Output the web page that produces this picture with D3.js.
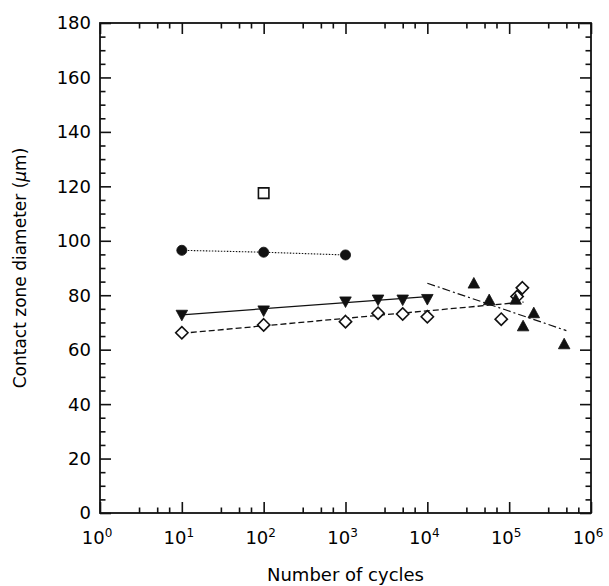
<!DOCTYPE html>
<html>
<head>
<meta charset="utf-8">
<script src="https://cdn.jsdelivr.net/npm/d3@7"></script>
<style>
  body { margin: 0; background: #fff; }
  text { font-family: "DejaVu Sans", sans-serif; fill: #000; }
</style>
</head>
<body>
<div id="main"></div>
<script>
// values
const xMajor = [1, 10, 100, 1000, 10000, 100000, 1000000];
const xMinorMult = [3, 5, 7];
const yMajor = [0, 20, 40, 60, 80, 100, 120, 140, 160, 180];

const circleX = [10, 100, 1000];
const circleY = [96.5, 95.8, 94.8];

const squareX = [100];
const squareY = [117.5];

const triDownX = [10, 100, 1000, 2500, 5000, 10000];
const triDownY = [72.7, 74.3, 77.6, 78.3, 78.3, 78.5];

const diamondX = [10, 100, 1000, 2500, 5000, 10000, 80000, 125000, 145000];
const diamondY = [66.2, 69.1, 70.3, 73.4, 73.1, 72.1, 71.2, 79.5, 82.7];

const triUpX = [37000, 57000, 120000, 148000, 200000, 470000];
const triUpY = [84.4, 78.3, 78.5, 68.7, 73.5, 62.1];

// fitted lines (x ends, y ends)
const solidFitX = [10, 10000];
const solidFitY = [72.8, 79.5];
const dashFitX = [10, 150000];
const dashFitY = [66, 77.5];
const dashDotFitX = [10000, 500000];
const dashDotFitY = [84.4, 67];

const width = 609;
const height = 586;
const margin = { left: 100, right: 18, top: 23, bottom: 73 };

const svg = d3.select("#main").append("svg")
  .attr("width", width)
  .attr("height", height);

const x = d3.scaleLog()
  .domain([1, 1e6])
  .range([margin.left, width - margin.right]);

const y = d3.scaleLinear()
  .domain([0, 180])
  .range([height - margin.bottom, margin.top]);

const x0 = x.range()[0], x1 = x.range()[1];
const y0 = y.range()[0], y1 = y.range()[1];

const xMinor = [];
xMajor.slice(0, -1).forEach((d) => xMinorMult.forEach((m) => xMinor.push(d * m)));
const yMinor = d3.range(0, 181, 5).filter((d) => d % 20 !== 0);

const majorLen = 11;
const minorLen = 5.5;

// axes with inward ticks on all four sides
const addAxis = (axis, tr) => {
  const g = svg.append("g").attr("transform", tr).call(axis);
  g.select(".domain").remove();
  g.selectAll("line").attr("stroke", "#111").attr("stroke-width", 1.6);
  g.selectAll("text").remove();
  return g;
};

addAxis(d3.axisBottom(x).tickValues(xMajor).tickSize(-majorLen), `translate(0,${y0})`);
addAxis(d3.axisBottom(x).tickValues(xMinor).tickSize(-minorLen), `translate(0,${y0})`);
addAxis(d3.axisTop(x).tickValues(xMajor).tickSize(-majorLen), `translate(0,${y1})`);
addAxis(d3.axisTop(x).tickValues(xMinor).tickSize(-minorLen), `translate(0,${y1})`);
addAxis(d3.axisLeft(y).tickValues(yMajor).tickSize(-majorLen), `translate(${x0},0)`);
addAxis(d3.axisLeft(y).tickValues(yMinor).tickSize(-minorLen), `translate(${x0},0)`);
addAxis(d3.axisRight(y).tickValues(yMajor).tickSize(-majorLen), `translate(${x1},0)`);
addAxis(d3.axisRight(y).tickValues(yMinor).tickSize(-minorLen), `translate(${x1},0)`);

svg.append("rect")
  .attr("x", x0).attr("y", y1)
  .attr("width", x1 - x0).attr("height", y0 - y1)
  .attr("fill", "none").attr("stroke", "#111").attr("stroke-width", 1.8);

// tick labels
svg.append("g").selectAll("text")
  .data(yMajor).enter().append("text")
  .attr("x", x0 - 9)
  .attr("y", (d) => y(d))
  .attr("dy", "0.36em")
  .attr("text-anchor", "end")
  .style("font-size", "18px")
  .text((d) => d);

const xl = svg.append("g").selectAll("text")
  .data(xMajor).enter().append("text")
  .attr("x", (d) => x(d) - 3)
  .attr("y", y0 + 31)
  .attr("text-anchor", "middle")
  .style("font-size", "18px");
xl.append("tspan").text("10");
xl.append("tspan")
  .attr("dy", "-0.55em")
  .style("font-size", "12px")
  .text((d) => Math.round(Math.log10(d)));

// axis titles
svg.append("text")
  .attr("x", (x0 + x1) / 2)
  .attr("y", 581)
  .attr("text-anchor", "middle")
  .style("font-size", "18px")
  .text("Number of cycles");

const yt = svg.append("text")
  .attr("transform", `translate(26,${(y0 + y1) / 2}) rotate(-90)`)
  .attr("text-anchor", "middle")
  .style("font-size", "17px");
yt.append("tspan").text("Contact zone diameter (");
yt.append("tspan").style("font-style", "italic").text("\u03bc");
yt.append("tspan").text("m)");

// fit lines
const line = d3.line().x((d) => x(d[0])).y((d) => y(d[1]));
const drawLine = (xs, ys, dash, w) => {
  svg.append("path")
    .datum(d3.zip(xs, ys))
    .attr("d", line)
    .attr("fill", "none")
    .attr("stroke", "#111")
    .attr("stroke-width", w)
    .attr("stroke-dasharray", dash);
};
drawLine(circleX, circleY, "1.5,1.5", 1.1);
drawLine(solidFitX, solidFitY, null, 1.2);
drawLine(dashFitX, dashFitY, "6,3", 1.3);
drawLine(dashDotFitX, dashDotFitY, "8,3,2,3", 1.2);

// markers
const sym = (type, size) => d3.symbol().type(type).size(size);
const triDown = {
  draw(ctx, size) {
    const s = Math.sqrt(size) * 1.1;
    ctx.moveTo(-s / 2, -s * 0.42);
    ctx.lineTo(s / 2, -s * 0.42);
    ctx.lineTo(0, s * 0.5);
    ctx.closePath();
  }
};
const triUp = {
  draw(ctx, size) {
    const s = Math.sqrt(size) * 1.1;
    ctx.moveTo(-s / 2, s * 0.42);
    ctx.lineTo(s / 2, s * 0.42);
    ctx.lineTo(0, -s * 0.5);
    ctx.closePath();
  }
};
const diamond = {
  draw(ctx, size) {
    const r = Math.sqrt(size) * 0.6;
    ctx.moveTo(0, -r);
    ctx.lineTo(r, 0);
    ctx.lineTo(0, r);
    ctx.lineTo(-r, 0);
    ctx.closePath();
  }
};

const drawMarks = (xs, ys, type, size, filled) => {
  svg.append("g").selectAll("path")
    .data(d3.zip(xs, ys)).enter().append("path")
    .attr("transform", (d) => `translate(${x(d[0])},${y(d[1])})`)
    .attr("d", sym(type, size))
    .attr("fill", filled ? "#111" : "#fff")
    .attr("stroke", "#111")
    .attr("stroke-width", filled ? 0.8 : 1.6);
};

drawMarks(circleX, circleY, d3.symbolCircle, 80, true);
drawMarks(squareX, squareY, d3.symbolSquare, 110, false);
drawMarks(triDownX, triDownY, triDown, 110, true);
drawMarks(diamondX, diamondY, diamond, 105, false);
drawMarks(triUpX, triUpY, triUp, 110, true);
</script>
</body>
</html>
